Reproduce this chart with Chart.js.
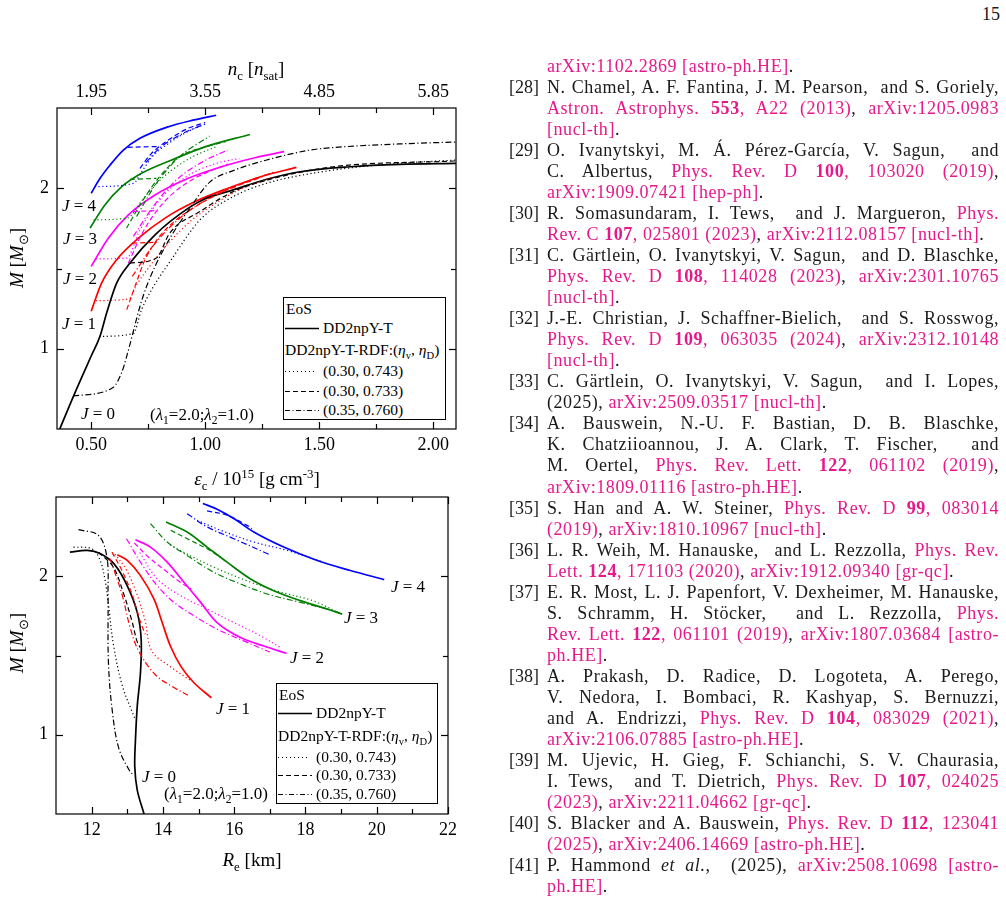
<!DOCTYPE html>
<html>
<head>
<meta charset="utf-8">
<script src="https://cdn.jsdelivr.net/npm/chart.js@4.4.1/dist/chart.umd.min.js"></script>
<style>
  body { margin: 0; background: #fff; }
  #page { position: relative; width: 1006px; height: 902px; overflow: hidden; font-family: "Liberation Serif", serif; color: #000; }
  canvas { position: absolute; }
  .t { position: absolute; white-space: nowrap; transform: translate(-50%, -50%); font-size: 19px; }
  .lab { position: absolute; white-space: nowrap; transform: translate(-50%, -50%); font-size: 17px; }
  sub, sup { font-size: 0.68em; line-height: 0; }
  .rot { transform: translate(-50%, -50%) rotate(-90deg); }
  .leg { position: absolute; border: 1px solid #000; background: #fff; font-size: 15.5px; }
  .leg div { position: absolute; white-space: nowrap; transform: translateY(-50%); }
  .leg svg { position: absolute; }
  .ref { position: absolute; font-size: 17px; color: #1a1a1a; }
  .ln { position: absolute; left: 547px; width: 452px; height: 21px; line-height: 21px; white-space: nowrap; font-size: 18px; letter-spacing: 0.55px; color: #1a1a1a; }
  .j { text-align: justify; text-align-last: justify; }
  .p { color: #e6198a; }
  .num { position: absolute; left: 509px; font-size: 18px; line-height: 21px; color: #1a1a1a; }
</style>
</head>
<body>
<div id="page">
  <canvas id="topChart" width="470" height="440" style="left:0;top:50px"></canvas>
  <canvas id="botChart" width="470" height="390" style="left:0;top:490px"></canvas>

  <div class="t" style="left:256px;top:69px"><i>n</i><sub>c</sub> [<i>n</i><sub>sat</sub>]</div>
  <div class="t" style="left:257px;top:479px"><i>ε</i><sub>c</sub> / 10<sup>15</sup> [g cm<sup>-3</sup>]</div>
  <div class="t rot" style="left:17px;top:258px"><i>M</i> [<i>M</i><sub>⊙</sub>]</div>
  <div class="t" style="left:252px;top:860px"><i>R</i><sub>e</sub> [km]</div>
  <div class="t rot" style="left:17px;top:643px"><i>M</i> [<i>M</i><sub>⊙</sub>]</div>

  <div class="lab" style="left:79px;top:206px"><i>J</i> = 4</div>
  <div class="lab" style="left:80px;top:239px"><i>J</i> = 3</div>
  <div class="lab" style="left:80px;top:279px"><i>J</i> = 2</div>
  <div class="lab" style="left:79px;top:324px"><i>J</i> = 1</div>
  <div class="lab" style="left:98px;top:414px"><i>J</i> = 0</div>
  <div class="lab" style="left:202px;top:415px">(<i>λ</i><sub>1</sub>=2.0;<i>λ</i><sub>2</sub>=1.0)</div>

  <div class="lab" style="left:408px;top:587px"><i>J</i> = 4</div>
  <div class="lab" style="left:361px;top:618px"><i>J</i> = 3</div>
  <div class="lab" style="left:307px;top:658px"><i>J</i> = 2</div>
  <div class="lab" style="left:233px;top:709px"><i>J</i> = 1</div>
  <div class="lab" style="left:159px;top:777px"><i>J</i> = 0</div>
  <div class="lab" style="left:216px;top:794px">(<i>λ</i><sub>1</sub>=2.0;<i>λ</i><sub>2</sub>=1.0)</div>

  <div class="leg" style="left:283px;top:297px;width:161px;height:121px">
    <div style="left:2px;top:11px">EoS</div>
    <svg style="left:0;top:29px" width="36" height="3"><line x1="1" y1="1.5" x2="35" y2="1.5" stroke="#000" stroke-width="1.5"/></svg>
    <div style="left:39px;top:30px">DD2npY-T</div>
    <div style="left:1px;top:52px">DD2npY-T-RDF:(<i>η</i><sub>v</sub>, <i>η</i><sub>D</sub>)</div>
    <svg style="left:0;top:72px" width="36" height="3"><line x1="1" y1="1.5" x2="33" y2="1.5" stroke="#000" stroke-width="1" stroke-dasharray="1 3"/></svg>
    <div style="left:39px;top:73px">(0.30, 0.743)</div>
    <svg style="left:0;top:92px" width="36" height="3"><line x1="1" y1="1.5" x2="35" y2="1.5" stroke="#000" stroke-width="1.2" stroke-dasharray="5 3"/></svg>
    <div style="left:39px;top:93px">(0.30, 0.733)</div>
    <svg style="left:0;top:111px" width="36" height="3"><line x1="1" y1="1.5" x2="35" y2="1.5" stroke="#000" stroke-width="1.2" stroke-dasharray="5 2.5 1 2.5"/></svg>
    <div style="left:39px;top:112px">(0.35, 0.760)</div>
  </div>

  <div class="leg" style="left:276px;top:683px;width:160px;height:119px">
    <div style="left:2px;top:11px">EoS</div>
    <svg style="left:0;top:28px" width="36" height="3"><line x1="1" y1="1.5" x2="35" y2="1.5" stroke="#000" stroke-width="1.5"/></svg>
    <div style="left:39px;top:29px">DD2npY-T</div>
    <div style="left:1px;top:52px">DD2npY-T-RDF:(<i>η</i><sub>v</sub>, <i>η</i><sub>D</sub>)</div>
    <svg style="left:0;top:72px" width="36" height="3"><line x1="1" y1="1.5" x2="33" y2="1.5" stroke="#000" stroke-width="1" stroke-dasharray="1 3"/></svg>
    <div style="left:39px;top:73px">(0.30, 0.743)</div>
    <svg style="left:0;top:90px" width="36" height="3"><line x1="1" y1="1.5" x2="35" y2="1.5" stroke="#000" stroke-width="1.2" stroke-dasharray="5 3"/></svg>
    <div style="left:39px;top:91px">(0.30, 0.733)</div>
    <div style="left:39px;top:110px">(0.35, 0.760)</div>
    <svg style="left:0;top:109px" width="36" height="3"><line x1="1" y1="1.5" x2="35" y2="1.5" stroke="#000" stroke-width="1.2" stroke-dasharray="5 2.5 1 2.5"/></svg>
  </div>

  <div class="ref" style="left:982px;top:4px;font-size:18px">15</div>
  <div id="refs"></div>
</div>

<script>
// ---- top panel: M vs central energy density ----
var topXTicks   = [0.5, 1.0, 1.5, 2.0];
var topXLabels  = ['0.50', '1.00', '1.50', '2.00'];
var topNcLabels = ['1.95', '3.55', '4.85', '5.85'];
var topXMinor   = [0.75, 1.25, 1.75];

var topJ0Solid   = [[0.362,0.5],[0.43,0.73],[0.5,0.955],[0.539,1.079],[0.568,1.224],[0.612,1.41],[0.67,1.534],[0.78,1.71],[0.926,1.876],[1.0,1.935],[1.123,1.99],[1.27,2.056],[1.416,2.103],[1.635,2.134],[1.854,2.149],[2.1,2.155]];
var topJ0Dot     = [[0.535,1.077],[0.685,1.095],[0.721,1.244],[0.765,1.368],[0.846,1.544],[0.977,1.803],[1.123,1.948],[1.27,2.031],[1.5,2.1],[1.8,2.15],[2.1,2.176]];
var topJ0Dash    = [[0.67,1.534],[0.786,1.565],[0.844,1.72],[0.977,1.855],[1.123,1.979],[1.27,2.05],[1.562,2.134],[2.1,2.17]];
var topJ0DashDot = [[0.421,0.706],[0.596,0.759],[0.634,0.853],[0.656,0.954],[0.685,1.109],[0.714,1.265],[0.743,1.389],[0.78,1.513],[0.85,1.7],[0.93,1.87],[1.021,2.04],[1.123,2.11],[1.27,2.176],[1.46,2.238],[1.557,2.253],[1.866,2.277],[2.1,2.288]];

var topJ1Solid   = [[0.5,1.234],[0.546,1.41],[0.612,1.555],[0.707,1.689],[0.824,1.814],[0.956,1.917],[1.1,2.0],[1.25,2.075],[1.4,2.13]];
var topJ1Dot     = [[0.52,1.3],[0.665,1.31],[0.7,1.4],[0.76,1.52],[0.84,1.66],[0.94,1.8],[1.05,1.91],[1.15,1.99],[1.3,2.07]];
var topJ1DashFlat= [[0.68,1.658],[0.786,1.663]];
var topJ1Dash    = [[0.656,1.244],[0.7,1.42],[0.736,1.555],[0.8,1.7],[0.87,1.8],[0.95,1.88],[1.05,1.96],[1.15,2.02],[1.25,2.07]];
var topJ1DashDot = [[0.68,1.45],[0.76,1.62],[0.84,1.75],[0.93,1.86],[1.05,1.96],[1.2,2.05],[1.3,2.1]];

var topJ2Solid   = [[0.5,1.513],[0.575,1.689],[0.663,1.834],[0.78,1.958],[0.926,2.062],[1.072,2.134],[1.218,2.19],[1.346,2.228]];
var topJ2Dot     = [[0.52,1.56],[0.655,1.565],[0.714,1.741],[0.8,1.928],[0.917,2.072],[1.048,2.155],[1.15,2.185]];
var topJ2DashFlat= [[0.685,1.855],[0.786,1.861]];
var topJ2Dash    = [[0.663,1.534],[0.728,1.731],[0.815,1.907],[0.917,2.031],[1.033,2.114],[1.1,2.15]];
var topJ2DashDot = [[0.685,1.7],[0.772,1.886],[0.874,2.052],[0.99,2.166],[1.099,2.238]];

var topJ3Solid   = [[0.495,1.752],[0.56,1.896],[0.634,2.01],[0.721,2.093],[0.853,2.176],[0.999,2.258],[1.196,2.335]];
var topJ3Dot     = [[0.51,1.803],[0.66,1.815],[0.72,1.92],[0.78,2.02],[0.86,2.12],[0.95,2.2],[1.05,2.26]];
var topJ3DashFlat= [[0.67,2.055],[0.786,2.062]];
var topJ3Dash    = [[0.655,1.752],[0.728,1.928],[0.8,2.072],[0.888,2.197],[1.004,2.259],[1.09,2.29]];
var topJ3DashDot = [[0.699,1.824],[0.786,2.031],[0.888,2.197],[1.019,2.325]];

var topJ4Solid   = [[0.5,1.969],[0.539,2.062],[0.583,2.145],[0.641,2.238],[0.714,2.311],[0.83,2.379],[0.946,2.424],[1.048,2.455]];
var topJ4Dot     = [[0.515,2.01],[0.685,2.03],[0.72,2.1],[0.77,2.2],[0.84,2.28],[0.92,2.35],[1.0,2.4]];
var topJ4DashFlat= [[0.66,2.255],[0.79,2.26]];
var topJ4Dash    = [[0.714,2.124],[0.76,2.21],[0.838,2.3],[0.92,2.37],[1.0,2.41]];
var topJ4DashDot = [[0.74,2.16],[0.8,2.25],[0.9,2.34],[0.98,2.39]];

// ---- bottom panel: M vs equatorial radius ----
var botXTicks  = [12, 14, 16, 18, 20, 22];
var botXLabels = ['12', '14', '16', '18', '20', '22'];
var botXMinor  = [13, 15, 17, 19, 21];

var botJ0Solid   = [[11.39,2.152],[11.88,2.163],[12.25,2.142],[12.63,2.078],[13.0,1.94],[13.28,1.772],[13.39,1.603],[13.37,1.391],[13.28,1.18],[13.23,0.968],[13.21,0.799],[13.28,0.651],[13.47,0.5]];
var botJ0Dot     = [[11.49,2.184],[12.01,2.173],[12.24,2.099],[12.38,1.972],[12.47,1.824],[12.61,1.571],[12.85,1.317],[13.13,1.148],[13.22,1.1]];
var botJ0Dash    = [[12.19,2.152],[12.61,2.057],[12.9,1.888],[13.13,1.718],[13.27,1.592],[13.36,1.55]];
var botJ0DashDot = [[11.63,2.294],[12.19,2.258],[12.43,2.12],[12.46,1.888],[12.47,1.465],[12.57,1.169],[12.76,0.916],[13.08,0.767],[13.18,0.746]];

var botJ1Solid   = [[12.72,2.135],[13.0,2.1],[13.37,2.004],[13.75,1.856],[13.98,1.708],[14.21,1.56],[14.5,1.433],[14.87,1.328],[15.36,1.233]];
var botJ1Dot     = [[12.65,2.14],[12.95,2.05],[13.25,1.9],[13.5,1.72],[13.69,1.528],[14.25,1.423],[14.81,1.338]];
var botJ1Dash    = [[12.57,2.152],[12.85,2.036],[13.13,1.888],[13.36,1.718],[13.5,1.634]];
var botJ1DashDot = [[12.52,2.11],[12.85,1.888],[13.08,1.677],[13.32,1.528],[13.78,1.38],[14.25,1.306],[14.7,1.249]];

var botJ2Solid   = [[13.23,2.23],[13.65,2.184],[14.12,2.089],[14.59,1.962],[15.06,1.835],[15.52,1.708],[16.18,1.613],[16.83,1.56],[17.47,1.514]];
var botJ2Dot     = [[13.35,2.15],[13.84,1.983],[14.5,1.877],[15.24,1.793],[15.99,1.708],[16.74,1.624],[17.3,1.55]];
var botJ2Dash    = [[13.2,2.21],[13.6,2.12],[14.1,2.03],[14.5,1.96],[14.8,1.92]];
var botJ2DashDot = [[12.98,2.237],[13.37,2.089],[13.84,1.941],[14.31,1.835],[14.87,1.751],[15.52,1.666],[16.27,1.592],[17.0,1.522]];

var botJ3Solid   = [[14.09,2.342],[14.68,2.279],[15.24,2.184],[15.8,2.089],[16.46,1.983],[17.11,1.909],[17.86,1.846],[18.61,1.793],[19.03,1.761]];
var botJ3Dot     = [[14.2,2.2],[14.49,2.162],[15.4,2.06],[16.35,1.972],[17.3,1.9],[18.22,1.845],[18.97,1.765]];
var botJ3Dash    = [[14.22,2.29],[14.68,2.237],[15.24,2.173],[15.62,2.12]];
var botJ3DashDot = [[13.65,2.332],[14.12,2.216],[14.68,2.131],[15.43,2.025],[16.18,1.951],[16.93,1.888],[17.86,1.835],[18.79,1.782],[19.0,1.765]];

var botJ4Solid   = [[15.12,2.459],[15.52,2.423],[15.99,2.364],[16.55,2.279],[17.39,2.184],[18.33,2.099],[19.26,2.036],[20.21,1.979]];
var botJ4Dot     = [[14.96,2.353],[15.62,2.29],[16.55,2.216],[17.49,2.163],[18.5,2.09]];
var botJ4Dash    = [[15.24,2.412],[15.8,2.385],[16.36,2.321],[16.5,2.3]];
var botJ4DashDot = [[14.68,2.395],[15.24,2.311],[15.99,2.237],[16.99,2.137]];

var yTicks = [1, 2];
var yLabels = ['1', '2'];
var yMinor = [1.5];

var colJ = ['#000000', '#ff0000', '#ff00ff', '#008000', '#0000ff'];

function curve(pts, color, style){
	var dash = {solid: [], dot: [1.2, 2.6], dash: [5, 3], dashdot: [6, 2.5, 1.2, 2.5]}[style];
	return {
		data: pts.map(function(p){ return {x: p[0], y: p[1]}; }),
		borderColor: color,
		borderWidth: style == 'solid' ? 1.7 : 1.2,
		borderDash: dash,
		pointRadius: 0,
		fill: false
	};
}

// frame with inward ticks + tick labels, all placed from the scales
var frameTicks = {
	id: 'frameTicks',
	afterDraw: function(chart, args, o){
		var ctx = chart.ctx, a = chart.chartArea, x = chart.scales.x, y = chart.scales.y;
		ctx.save();
		ctx.strokeStyle = '#000';
		ctx.lineWidth = 1.2;
		ctx.strokeRect(a.left, a.top, a.right - a.left, a.bottom - a.top);
		function seg(x1, y1, x2, y2){ ctx.beginPath(); ctx.moveTo(x1, y1); ctx.lineTo(x2, y2); ctx.stroke(); }
		o.xMajor.concat(o.xMinor).forEach(function(v, i){
			var px = Math.round(x.getPixelForValue(v)) + 0.5, len = i < o.xMajor.length ? 7 : 5;
			seg(px, a.bottom, px, a.bottom - len);
			seg(px, a.top, px, a.top + len);
		});
		o.yMajor.concat(o.yMinor).forEach(function(v, i){
			var py = Math.round(y.getPixelForValue(v)) + 0.5, len = i < o.yMajor.length ? 7 : 5;
			seg(a.left, py, a.left + len, py);
			seg(a.right, py, a.right - len, py);
		});
		ctx.fillStyle = '#000';
		ctx.font = '18px "Liberation Serif"';
		ctx.textAlign = 'center';
		ctx.textBaseline = 'middle';
		o.xMajor.forEach(function(v, i){
			var px = x.getPixelForValue(v);
			ctx.fillText(o.xLabels[i], px, a.bottom + 16);
			if (o.topLabels) ctx.fillText(o.topLabels[i], px, a.top - 16);
		});
		ctx.textAlign = 'right';
		o.yMajor.forEach(function(v, i){
			ctx.fillText(o.yLabels[i], a.left - 8, y.getPixelForValue(v));
		});
		ctx.restore();
	}
};

function makeChart(id, sets, xr, pad, ticks, mono){
	var datasets = sets.map(function(s){ return curve(s[0], colJ[s[1]], s[2]); });
	return new Chart(document.getElementById(id), {
		type: 'line',
		data: { datasets: datasets },
		options: {
			responsive: false,
			animation: false,
			devicePixelRatio: 1,
			layout: { padding: pad },
			elements: { line: mono ? { cubicInterpolationMode: 'monotone' } : { tension: 0.35 } },
			plugins: { legend: { display: false }, tooltip: { enabled: false }, frameTicks: ticks },
			scales: {
				x: { type: 'linear', min: xr[0], max: xr[1], display: false },
				y: { type: 'linear', min: 0.5, max: 2.5, display: false }
			}
		},
		plugins: [frameTicks]
	});
}

makeChart('topChart', [
	[topJ0Dot,0,'dot'],[topJ0Dash,0,'dash'],[topJ0DashDot,0,'dashdot'],
	[topJ1Dot,1,'dot'],[topJ1DashFlat,1,'dash'],[topJ1Dash,1,'dash'],[topJ1DashDot,1,'dashdot'],
	[topJ2Dot,2,'dot'],[topJ2DashFlat,2,'dash'],[topJ2Dash,2,'dash'],[topJ2DashDot,2,'dashdot'],
	[topJ3Dot,3,'dot'],[topJ3DashFlat,3,'dash'],[topJ3Dash,3,'dash'],[topJ3DashDot,3,'dashdot'],
	[topJ4Dot,4,'dot'],[topJ4DashFlat,4,'dash'],[topJ4Dash,4,'dash'],[topJ4DashDot,4,'dashdot'],
	[topJ0Solid,0,'solid'],[topJ1Solid,1,'solid'],[topJ2Solid,2,'solid'],[topJ3Solid,3,'solid'],[topJ4Solid,4,'solid']
], [0.35, 2.1], {left: 57, top: 58, right: 14, bottom: 61},
{xMajor: topXTicks, xMinor: topXMinor, xLabels: topXLabels, topLabels: topNcLabels, yMajor: yTicks, yMinor: yMinor, yLabels: yLabels}, true);

makeChart('botChart', [
	[botJ0Dot,0,'dot'],[botJ0Dash,0,'dash'],[botJ0DashDot,0,'dashdot'],
	[botJ1Dot,1,'dot'],[botJ1Dash,1,'dash'],[botJ1DashDot,1,'dashdot'],
	[botJ2Dot,2,'dot'],[botJ2Dash,2,'dash'],[botJ2DashDot,2,'dashdot'],
	[botJ3Dot,3,'dot'],[botJ3Dash,3,'dash'],[botJ3DashDot,3,'dashdot'],
	[botJ4Dot,4,'dot'],[botJ4Dash,4,'dash'],[botJ4DashDot,4,'dashdot'],
	[botJ0Solid,0,'solid'],[botJ1Solid,1,'solid'],[botJ2Solid,2,'solid'],[botJ3Solid,3,'solid'],[botJ4Solid,4,'solid']
], [11, 22], {left: 56, top: 7, right: 22, bottom: 66},
{xMajor: botXTicks, xMinor: botXMinor, xLabels: botXLabels, yMajor: yTicks, yMinor: yMinor, yLabels: yLabels}, false);

// ---- reference list (right column), one entry per printed line ----
// [label or '', html, justified]
var refLines = [
	['', '<span class="p">arXiv:1102.2869 [astro-ph.HE]</span>.', false],
	['[28]', 'N. Chamel, A. F. Fantina, J. M. Pearson,&nbsp; and S. Goriely,', true],
	['', '<span class="p">Astron. Astrophys. <b>553</b>, A22 (2013)</span>, <span class="p">arXiv:1205.0983</span>', true],
	['', '<span class="p">[nucl-th]</span>.', false],
	['[29]', 'O. Ivanytskyi, M. Á. Pérez-García, V. Sagun,&nbsp; and', true],
	['', 'C. Albertus, <span class="p">Phys. Rev. D <b>100</b>, 103020 (2019)</span>,', true],
	['', '<span class="p">arXiv:1909.07421 [hep-ph]</span>.', false],
	['[30]', 'R. Somasundaram, I. Tews,&nbsp; and J. Margueron, <span class="p">Phys.</span>', true],
	['', '<span class="p">Rev. C <b>107</b>, 025801 (2023)</span>, <span class="p">arXiv:2112.08157 [nucl-th]</span>.', false],
	['[31]', 'C. Gärtlein, O. Ivanytskyi, V. Sagun,&nbsp; and D. Blaschke,', true],
	['', '<span class="p">Phys. Rev. D <b>108</b>, 114028 (2023)</span>, <span class="p">arXiv:2301.10765</span>', true],
	['', '<span class="p">[nucl-th]</span>.', false],
	['[32]', 'J.-E. Christian, J. Schaffner-Bielich,&nbsp; and S. Rosswog,', true],
	['', '<span class="p">Phys. Rev. D <b>109</b>, 063035 (2024)</span>, <span class="p">arXiv:2312.10148</span>', true],
	['', '<span class="p">[nucl-th]</span>.', false],
	['[33]', 'C. Gärtlein, O. Ivanytskyi, V. Sagun,&nbsp; and I. Lopes,', true],
	['', '(2025), <span class="p">arXiv:2509.03517 [nucl-th]</span>.', false],
	['[34]', 'A. Bauswein, N.-U. F. Bastian, D. B. Blaschke,', true],
	['', 'K. Chatziioannou, J. A. Clark, T. Fischer,&nbsp; and', true],
	['', 'M. Oertel, <span class="p">Phys. Rev. Lett. <b>122</b>, 061102 (2019)</span>,', true],
	['', '<span class="p">arXiv:1809.01116 [astro-ph.HE]</span>.', false],
	['[35]', 'S. Han and A. W. Steiner, <span class="p">Phys. Rev. D <b>99</b>, 083014</span>', true],
	['', '<span class="p">(2019)</span>, <span class="p">arXiv:1810.10967 [nucl-th]</span>.', false],
	['[36]', 'L. R. Weih, M. Hanauske,&nbsp; and L. Rezzolla, <span class="p">Phys. Rev.</span>', true],
	['', '<span class="p">Lett. <b>124</b>, 171103 (2020)</span>, <span class="p">arXiv:1912.09340 [gr-qc]</span>.', false],
	['[37]', 'E. R. Most, L. J. Papenfort, V. Dexheimer, M. Hanauske,', true],
	['', 'S. Schramm, H. Stöcker,&nbsp; and L. Rezzolla, <span class="p">Phys.</span>', true],
	['', '<span class="p">Rev. Lett. <b>122</b>, 061101 (2019)</span>, <span class="p">arXiv:1807.03684 [astro-</span>', true],
	['', '<span class="p">ph.HE]</span>.', false],
	['[38]', 'A. Prakash, D. Radice, D. Logoteta, A. Perego,', true],
	['', 'V. Nedora, I. Bombaci, R. Kashyap, S. Bernuzzi,', true],
	['', 'and A. Endrizzi, <span class="p">Phys. Rev. D <b>104</b>, 083029 (2021)</span>,', true],
	['', '<span class="p">arXiv:2106.07885 [astro-ph.HE]</span>.', false],
	['[39]', 'M. Ujevic, H. Gieg, F. Schianchi, S. V. Chaurasia,', true],
	['', 'I. Tews,&nbsp; and T. Dietrich, <span class="p">Phys. Rev. D <b>107</b>, 024025</span>', true],
	['', '<span class="p">(2023)</span>, <span class="p">arXiv:2211.04662 [gr-qc]</span>.', false],
	['[40]', 'S. Blacker and A. Bauswein, <span class="p">Phys. Rev. D <b>112</b>, 123041</span>', true],
	['', '<span class="p">(2025)</span>, <span class="p">arXiv:2406.14669 [astro-ph.HE]</span>.', false],
	['[41]', 'P. Hammond <i>et al.</i>,&nbsp; (2025), <span class="p">arXiv:2508.10698 [astro-</span>', true],
	['', '<span class="p">ph.HE]</span>.', false]
];

var refs = document.getElementById('refs');
refLines.forEach(function(r, i){
	var top = 66 + i * 21.05 - 10.5;
	if (r[0]) {
		var n = document.createElement('div');
		n.className = 'num';
		n.style.top = top + 'px';
		n.textContent = r[0];
		refs.appendChild(n);
	}
	var d = document.createElement('div');
	d.className = 'ln' + (r[2] ? ' j' : '');
	d.style.top = top + 'px';
	d.innerHTML = r[1];
	refs.appendChild(d);
});
</script>
</body>
</html>
